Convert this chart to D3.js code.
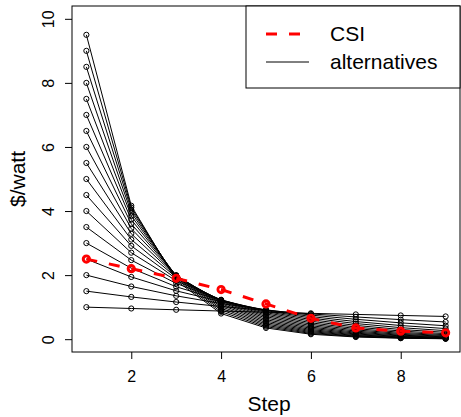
<!DOCTYPE html>
<html>
<head>
<meta charset="utf-8">
<script src="https://cdn.jsdelivr.net/npm/d3@7"></script>
<style>
  html, body { margin: 0; padding: 0; background: #fff; }
  svg { display: block; font-family: "Liberation Sans", Arial, Helvetica, sans-serif; }
</style>
</head>
<body>
<div id="chart"></div>
<script>
// Incentive schedule per step ($/watt): CSI plan vs. alternative declining plans
const steps = [1, 2, 3, 4, 5, 6, 7, 8, 9];
const csi = [2.5, 2.2, 1.9, 1.55, 1.1, 0.65, 0.35, 0.25, 0.2];

// one row per alternative (starting value 1 .. 9.5)
const alternatives = [
  [1,   0.958, 0.918, 0.879, 0.842, 0.807, 0.773, 0.741, 0.710],
  [1.5, 1.319, 1.160, 1.020, 0.897, 0.789, 0.694, 0.611, 0.537],
  [2,   1.645, 1.353, 1.113, 0.916, 0.753, 0.620, 0.510, 0.419],
  [2.5, 1.943, 1.509, 1.173, 0.911, 0.708, 0.550, 0.427, 0.332],
  [3,   2.216, 1.637, 1.209, 0.893, 0.660, 0.488, 0.360, 0.266],
  [3.5, 2.468, 1.740, 1.226, 0.865, 0.610, 0.430, 0.303, 0.214],
  [4,   2.700, 1.823, 1.230, 0.830, 0.561, 0.378, 0.255, 0.172],
  [4.5, 2.913, 1.886, 1.221, 0.790, 0.512, 0.331, 0.214, 0.139],
  [5,   3.110, 1.934, 1.203, 0.748, 0.466, 0.290, 0.180, 0.112],
  [5.5, 3.290, 1.968, 1.177, 0.704, 0.421, 0.252, 0.151, 0.090],
  [6,   3.452, 1.987, 1.143, 0.658, 0.378, 0.218, 0.125, 0.072],
  [6.5, 3.600, 1.994, 1.104, 0.611, 0.339, 0.188, 0.104, 0.057],
  [7,   3.732, 1.989, 1.061, 0.565, 0.301, 0.161, 0.086, 0.046],
  [7.5, 3.848, 1.975, 1.013, 0.520, 0.267, 0.137, 0.070, 0.036],
  [8,   3.950, 1.950, 0.963, 0.475, 0.235, 0.116, 0.057, 0.028],
  [8.5, 4.038, 1.918, 0.911, 0.433, 0.205, 0.098, 0.046, 0.022],
  [9,   4.109, 1.876, 0.856, 0.391, 0.178, 0.082, 0.037, 0.017],
  [9.5, 4.166, 1.827, 0.801, 0.351, 0.154, 0.068, 0.030, 0.013]
];

const xTicks = [2, 4, 6, 8];
const yTicks = [0, 2, 4, 6, 8, 10];
const legendLabels = ["CSI", "alternatives"];

const W = 461, H = 417;
const margin = { top: 6, right: 1, bottom: 65, left: 72 };
const iW = W - margin.left - margin.right;
const iH = H - margin.top - margin.bottom;

const svg = d3.select("#chart").append("svg")
  .attr("width", W).attr("height", H);

const g = svg.append("g").attr("transform", `translate(${margin.left},${margin.top})`);

// R-style 4% padding around the data range
const x = d3.scaleLinear().domain([0.68, 9.32]).range([0, iW]);
const y = d3.scaleLinear().domain([-0.4, 10.4]).range([iH, 0]);

const line = d3.line().x((d, i) => x(steps[i])).y(d => y(d));

// alternatives: thin black lines with open circles
alternatives.forEach(row => {
  g.append("path")
    .attr("d", line(row))
    .attr("fill", "none").attr("stroke", "#000").attr("stroke-width", 1);
  g.selectAll(null)
    .data(row)
    .join("circle")
    .attr("cx", (d, i) => x(steps[i]))
    .attr("cy", d => y(d))
    .attr("r", 2.6)
    .attr("fill", "none").attr("stroke", "#000").attr("stroke-width", 1);
});

// CSI: thick red dashed line with points
g.append("path")
  .attr("d", line(csi))
  .attr("fill", "none").attr("stroke", "#ff0000").attr("stroke-width", 3)
  .attr("stroke-dasharray", "11,12");
g.selectAll(".csi-pt")
  .data(csi)
  .join("circle")
  .attr("class", "csi-pt")
  .attr("cx", (d, i) => x(steps[i]))
  .attr("cy", d => y(d))
  .attr("r", 3.2)
  .attr("fill", "none").attr("stroke", "#ff0000").attr("stroke-width", 2.8);

// X axis
g.append("g")
  .attr("transform", `translate(0,${iH})`)
  .call(d3.axisBottom(x).tickValues(xTicks).tickSize(7).tickFormat(d3.format("d")))
  .call(a => a.select(".domain").remove())
  .call(a => a.selectAll(".tick line").attr("stroke", "#000"))
  .call(a => a.selectAll(".tick text")
    .attr("y", 30).attr("dy", 0)
    .attr("fill", "#000").attr("font-size", 16)
    .attr("font-family", "Liberation Sans, Arial, sans-serif"));

// Y axis, labels parallel to the axis
g.append("g")
  .call(d3.axisLeft(y).tickValues(yTicks).tickSize(7).tickFormat(d3.format("d")))
  .call(a => a.select(".domain").remove())
  .call(a => a.selectAll(".tick line").attr("stroke", "#000"))
  .call(a => a.selectAll(".tick text")
    .attr("x", 0).attr("y", 0).attr("dy", 0)
    .attr("transform", "translate(-18,0) rotate(-90)")
    .attr("text-anchor", "middle")
    .attr("fill", "#000").attr("font-size", 16)
    .attr("font-family", "Liberation Sans, Arial, sans-serif"));

// plot frame
g.append("rect")
  .attr("x", 0).attr("y", 0).attr("width", iW).attr("height", iH)
  .attr("fill", "none").attr("stroke", "#000").attr("stroke-width", 1);

// axis titles
svg.append("text")
  .attr("x", margin.left + x(5) + 3).attr("y", 411)
  .attr("text-anchor", "middle").attr("font-size", 21)
  .text("Step");

svg.append("text")
  .attr("transform", `translate(25,${margin.top + y(5)}) rotate(-90)`)
  .attr("text-anchor", "middle").attr("font-size", 21)
  .text("$/watt");

// legend, top-right
const lg = svg.append("g");
lg.append("rect")
  .attr("x", 246).attr("y", margin.top).attr("width", margin.left + iW - 246).attr("height", 82)
  .attr("fill", "#fff").attr("stroke", "#000").attr("stroke-width", 1);

lg.append("line")
  .attr("x1", 266).attr("x2", 309).attr("y1", 34).attr("y2", 34)
  .attr("stroke", "#ff0000").attr("stroke-width", 3).attr("stroke-dasharray", "11,12");
lg.append("line")
  .attr("x1", 266).attr("x2", 309).attr("y1", 62).attr("y2", 62)
  .attr("stroke", "#000").attr("stroke-width", 1);

lg.selectAll(".lg-text")
  .data(legendLabels)
  .join("text")
  .attr("class", "lg-text")
  .attr("x", 330).attr("y", (d, i) => 41 + i * 27.5)
  .attr("font-size", 21)
  .text(d => d);
</script>
</body>
</html>
